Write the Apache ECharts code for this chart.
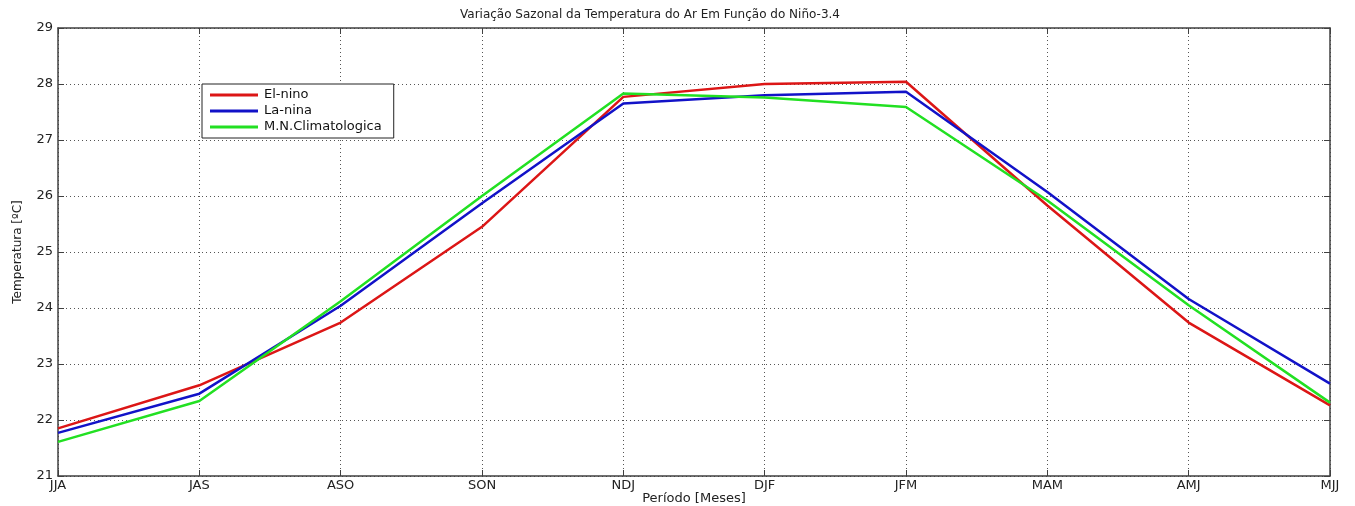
<!DOCTYPE html>
<html>
<head>
<meta charset="utf-8">
<script src="https://cdn.jsdelivr.net/npm/echarts@6/dist/echarts.min.js"></script>
<style>
  html, body { margin: 0; padding: 0; background: #fff; }
  #chart { width: 1355px; height: 506px; }
</style>
</head>
<body>
<div id="chart"></div>
<script>
// dados
const months = ['JJA', 'JAS', 'ASO', 'SON', 'NDJ', 'DJF', 'JFM', 'MAM', 'AMJ', 'MJJ'];
const elNino = [21.85, 22.62, 23.74, 25.45, 27.77, 28.00, 28.04, 25.83, 23.74, 22.26];
const laNina = [21.77, 22.47, 24.04, 25.87, 27.65, 27.80, 27.86, 26.07, 24.16, 22.65];
const climatologica = [21.61, 22.34, 24.12, 26.00, 27.83, 27.76, 27.59, 25.92, 24.05, 22.31];
const yTicks = [21, 22, 23, 24, 25, 26, 27, 28, 29];

let myChart = echarts.init(document.getElementById('chart'));
let font = 'DejaVu Sans, Liberation Sans, sans-serif';
let axisCol = '#404040';

let lineSerie = function (name, data, color) {
  return {
    name: name,
    type: 'line',
    data: data,
    symbol: 'none',
    lineStyle: { color: color, width: 2.5 },
    itemStyle: { color: color },
    animation: false
  };
};

let option = {
  backgroundColor: '#ffffff',
  textStyle: { fontFamily: font },
  title: {
    text: 'Variação Sazonal da Temperatura do Ar Em Função do Niño-3.4',
    left: 455,
    top: 4,
    textStyle: { fontSize: 12, fontWeight: 'normal', color: '#222', fontFamily: font }
  },
  legend: {
    orient: 'vertical',
    left: 202,
    top: 84,
    itemWidth: 48,
    itemHeight: 3,
    itemGap: 2,
    icon: 'rect',
    padding: [4, 12, 4, 8],
    backgroundColor: '#fff',
    borderColor: '#222',
    borderWidth: 1,
    textStyle: { fontSize: 13, lineHeight: 14, color: '#111', fontFamily: font, padding: [0, 0, 0, 1] },
    data: ['El-nino', 'La-nina', 'M.N.Climatologica']
  },
  grid: { left: 58, right: 25, top: 28, bottom: 30, outerBoundsMode: 'none' },
  xAxis: [
    {
      type: 'category',
      data: months,
      boundaryGap: false,
      name: 'Período [Meses]',
      nameLocation: 'middle',
      nameGap: 16,
      nameMoveOverlap: false,
      nameTextStyle: { fontSize: 13, color: '#222' },
      axisLine: { lineStyle: { color: axisCol, width: 1.5 } },
      axisTick: { inside: true, length: 6, lineStyle: { color: axisCol } },
      axisLabel: { color: '#222', fontSize: 13, margin: 3, interval: 0 },
      splitLine: { show: true, lineStyle: { type: [1, 3], color: '#555' } }
    },
    {
      type: 'category',
      data: months,
      boundaryGap: false,
      position: 'top',
      axisLine: { lineStyle: { color: axisCol, width: 1.5 } },
      axisTick: { inside: true, length: 6, lineStyle: { color: axisCol } },
      axisLabel: { show: false },
      splitLine: { show: false }
    }
  ],
  yAxis: [
    {
      type: 'value',
      min: 21,
      max: 29,
      interval: 1,
      name: 'Temperatura [ºC]',
      nameLocation: 'middle',
      nameGap: 34,
      nameMoveOverlap: false,
      nameTextStyle: { fontSize: 12, color: '#222' },
      axisLine: { show: true, lineStyle: { color: axisCol, width: 1.5 } },
      axisTick: { show: true, inside: true, length: 6, lineStyle: { color: axisCol } },
      axisLabel: { color: '#222', fontSize: 13, margin: 5 },
      splitLine: { show: true, lineStyle: { type: [1, 3], color: '#555' } }
    },
    {
      type: 'value',
      min: 21,
      max: 29,
      interval: 1,
      position: 'right',
      axisLine: { show: true, lineStyle: { color: axisCol, width: 1.5 } },
      axisTick: { show: true, inside: true, length: 6, lineStyle: { color: axisCol } },
      axisLabel: { show: false },
      splitLine: { show: false }
    }
  ],
  series: [
    lineSerie('El-nino', elNino, '#dc1616'),
    lineSerie('La-nina', laNina, '#1212c8'),
    lineSerie('M.N.Climatologica', climatologica, '#22e022')
  ]
};
myChart.setOption(option);
</script>
</body>
</html>
